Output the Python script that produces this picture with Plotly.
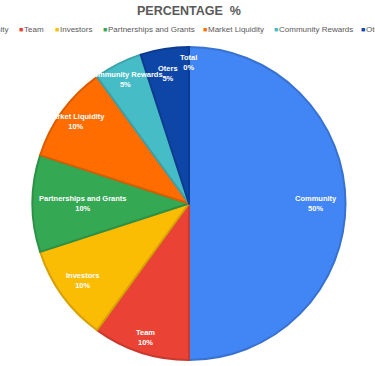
import math
import plotly.graph_objects as go

# ---- data ----
labels = ["Community", "Team", "Investors", "Partnerships and Grants",
          "Market Liquidity", "Community Rewards", "Oters", "Total"]
values = [50, 10, 10, 10, 10, 5, 5, 0]
colors = ["#4285F4", "#EA4335", "#FBBC04", "#34A853",
          "#FF6D01", "#46BDC6", "#0E46A8", "#0E46A8"]
title_text = "PERCENTAGE  %"

# ---- style ----
W, H = 375, 366
def darker(hexc, f=0.86):
    r, g, b = int(hexc[1:3], 16), int(hexc[3:5], 16), int(hexc[5:7], 16)
    return "#%02x%02x%02x" % (int(r * f), int(g * f), int(b * f))

def px(x):
    return x / W

def py(y):
    return 1 - y / H

cx_px, cy_px, R_px = 189, 203.5, 156.5
dom_x = [px(cx_px - R_px), px(cx_px + R_px)]
dom_y = [py(cy_px + R_px), py(cy_px - R_px)]
label_rfrac = {"Community": 0.81, "Team": 0.9, "Investors": 0.84,
               "Partnerships and Grants": 0.68, "Market Liquidity": 0.89,
               "Community Rewards": 0.89, "Oters": 0.84, "Total": 0.9}
legend_x_px = {"Community": -39, "Team": 17, "Investors": 53,
               "Partnerships and Grants": 101, "Market Liquidity": 201,
               "Community Rewards": 272, "Oters": 359}
font_fam = "Liberation Sans, Arial"

fig = go.Figure(go.Pie(
    labels=labels, values=values, sort=False, direction="clockwise", rotation=0,
    marker=dict(colors=colors, line=dict(color=[darker(c) for c in colors], width=2)),
    textinfo="none", hoverinfo="label+percent", showlegend=False,
    domain=dict(x=dom_x, y=dom_y),
))

annotations = []
total = sum(values)
cum = 0
for lab, v in zip(labels, values):
    theta = 2 * math.pi * (cum + v / 2) / total
    cum += v
    d = label_rfrac[lab] * R_px
    xp = cx_px + math.sin(theta) * d
    yp = cy_px - math.cos(theta) * d
    pct = round(100 * v / total)
    annotations.append(dict(
        x=px(xp), y=py(yp), xref="paper", yref="paper",
        text=f"<b>{lab}<br>{pct}%</b>", showarrow=False,
        font=dict(family=font_fam, size=7.5, color="white"),
        xanchor="center", yanchor="middle", align="center",
    ))

for lab, c in zip(labels, colors):
    if lab not in legend_x_px:
        continue
    x0 = legend_x_px[lab]
    annotations.append(dict(
        x=px(x0), y=py(29.5), xref="paper", yref="paper",
        text="■", showarrow=False,
        font=dict(family=font_fam, size=7, color=c),
        xanchor="left", yanchor="middle",
    ))
    annotations.append(dict(
        x=px(x0 + 5), y=py(29.5), xref="paper", yref="paper",
        text=lab, showarrow=False,
        font=dict(family=font_fam, size=8, color="#595959"),
        xanchor="left", yanchor="middle",
    ))

annotations.append(dict(
    x=px(188.5), y=py(11), xref="paper", yref="paper",
    text=f"<b>{title_text}</b>", showarrow=False,
    font=dict(family=font_fam, size=12.5, color="#595959"),
    xanchor="center", yanchor="middle",
))

fig.update_layout(
    width=W, height=H, margin=dict(l=0, r=0, t=0, b=0),
    paper_bgcolor="white", plot_bgcolor="white",
    annotations=annotations,
)
fig.write_html("out.html", config={"displayModeBar": False},
               post_script="document.body.style.margin='0';")
